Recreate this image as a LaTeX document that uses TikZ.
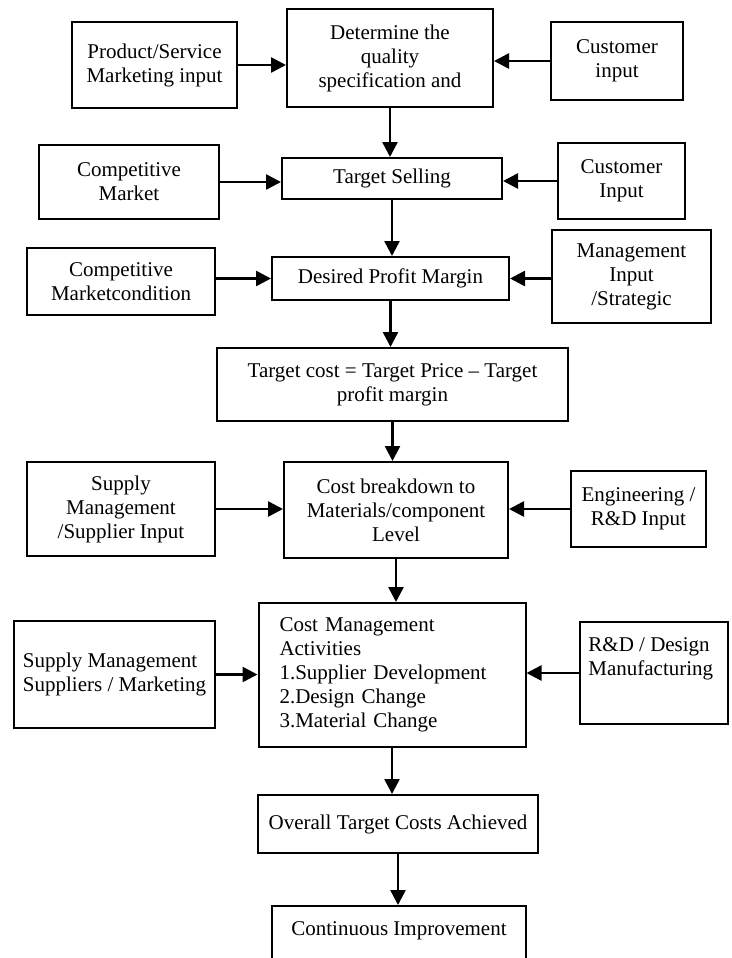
\documentclass[tikz,border=0pt]{standalone}
\usepackage{fontspec}
\setmainfont{Liberation Serif}
\usetikzlibrary{arrows.meta}
\begin{document}
\begin{tikzpicture}[x=0.5pt,y=-0.5pt,every node/.style={font=\fontsize{10.5}{12}\selectfont},
  box/.style={draw,line width=1pt,align=center,inner sep=1pt},
  flow/.style={-{Triangle[length=7.5pt,width=7.5pt]},line width=1.3pt}]
\useasboundingbox (0,0) rectangle (732,958);
% quality specification row
\node[box,minimum width=82.5pt,minimum height=43pt] (prod) at (154.5,65) {Product/Service\\Marketing input};
\node[box,minimum width=103pt,minimum height=49.25pt] (det) at (390,58) {Determine the\\quality\\specification and};
\node[box,minimum width=66pt,minimum height=39pt] (cust1) at (617,61) {Customer\\input};
% target selling row
\node[box,minimum width=90pt,minimum height=37pt] (compM) at (129,182) {Competitive\\Market};
\node[box,minimum width=110pt,minimum height=20.5pt] (ts) at (392,178.5) {Target Selling};
\node[box,minimum width=63.5pt,minimum height=38pt] (cust2) at (621.5,181) {Customer\\Input};
% profit margin row
\node[box,minimum width=94pt,minimum height=33.5pt] (compMC) at (121,281.5) {Competitive\\Marketcondition};
\node[box,minimum width=118.5pt,minimum height=21.5pt] (dpm) at (390.5,278.5) {Desired Profit Margin};
\node[box,minimum width=79.75pt,minimum height=46.25pt] (mgmt) at (631.5,276.5) {Management\\Input\\/Strategic};
% target cost
\node[box,minimum width=175.5pt,minimum height=36.5pt] (tc) at (392.5,384.5) {Target cost = Target Price -- Target\\profit margin};
% cost breakdown row
\node[box,minimum width=94pt,minimum height=47pt] (supA) at (121,509) {Supply\\Management\\/Supplier Input};
\node[box,minimum width=112pt,minimum height=48pt] (cb) at (396,510) {Cost breakdown to\\Materials/component\\Level};
\node[box,minimum width=67.5pt,minimum height=38pt] (eng) at (638.5,509) {Engineering /\\R\&D Input};
% cost management row
\node[box,minimum width=100.5pt,minimum height=53.5pt,align=left] (supB) at (114.5,674.5) {Supply Management\\Suppliers / Marketing};
\node[box,text width=112.5pt,inner xsep=10.5pt,minimum height=72pt,align=left] (cma) at (392,675) {Cost Management\\Activities\\1.Supplier Development\\2.Design Change\\3.Material Change};
\node[box,minimum width=74pt,minimum height=51pt] (rd) at (654,673) {};
\node[align=left,anchor=north west,inner sep=0pt] (rdtxt) at ([xshift=4.5pt,yshift=-8.2pt]rd.north west) {R\&D / Design\\Manufacturing};
% outcome
\node[box,minimum width=140pt,minimum height=29pt] (otc) at (398,824) {Overall Target Costs Achieved};
\node[box,minimum width=127pt,inner ysep=0pt,text height=14.5pt,text depth=27.5pt] (ci) at (399,948) {Continuous Improvement};
% side inputs
\draw[flow] (prod.east) -- (prod.east -| det.west); \draw[flow] (cust1.west) -- (cust1.west -| det.east);
\draw[flow] (compM.east) -- (compM.east -| ts.west); \draw[flow] (cust2.west) -- (cust2.west -| ts.east);
\draw[flow] (compMC.east |- dpm.west) -- (dpm.west); \draw[flow] (mgmt.west |- dpm.east) -- (dpm.east);
\draw[flow] (supA.east) -- (supA.east -| cb.west); \draw[flow] (eng.west) -- (eng.west -| cb.east);
\draw[flow] (supB.east) -- (supB.east -| cma.west); \draw[flow] (rd.west) -- (rd.west -| cma.east);
% main flow
\draw[flow] (det.south) -- (det.south |- ts.north); \draw[flow] (ts.south) -- (ts.south |- dpm.north);
\draw[flow] (dpm.south) -- (dpm.south |- tc.north); \draw[flow] (tc.south) -- (tc.south |- cb.north);
\draw[flow] (cb.south) -- (cb.south |- cma.north); \draw[flow] (cma.south) -- (cma.south |- otc.north);
\draw[flow] (otc.south) -- (otc.south |- ci.north);
\end{tikzpicture}
\end{document}
